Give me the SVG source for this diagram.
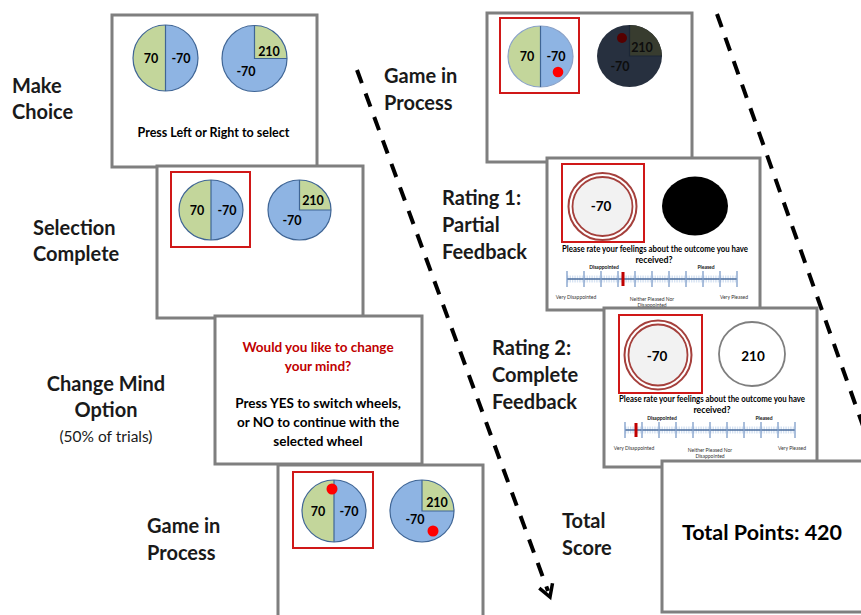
<svg xmlns="http://www.w3.org/2000/svg" width="861" height="615" viewBox="0 0 861 615">
<style>
.scr{fill:#fff;stroke:#7f7f7f;stroke-width:3}
.lbl{font-family:Lato,"Open Sans",sans-serif;font-weight:bold;font-size:20px;fill:#1a1a1a}
.num{font-family:Lato,"Open Sans",sans-serif;font-weight:bold;font-size:12.5px;text-anchor:middle;fill:#000}
.txt{font-family:Lato,"Open Sans",sans-serif;font-weight:bold;font-size:12.5px;text-anchor:middle;fill:#000}
.grn{fill:#c3d69b}
.blu{fill:#8eb4e3}
.pe{fill:none;stroke:#3f6595;stroke-width:1.2}
.sel{fill:none;stroke:#d01818;stroke-width:2}
.dot{fill:#ff0000}
.ring{fill:#fff;stroke:#a5403c;stroke-width:2}
.ring2{fill:#f2f2f2;stroke:#a5403c;stroke-width:1.8}
.tiny{font-family:Lato,"Open Sans",sans-serif;font-size:5px;text-anchor:middle;fill:#333}
.tinyb{font-family:Lato,"Open Sans",sans-serif;font-size:5px;font-weight:bold;text-anchor:middle;fill:#111}
.q{font-family:Lato,"Open Sans",sans-serif;font-weight:bold;font-size:8.8px;text-anchor:middle;fill:#000}
.dash{fill:none;stroke:#000;stroke-width:4;stroke-dasharray:14 11}
.chev{fill:none;stroke:#000;stroke-width:3.5}
.mark{fill:#c00000}
</style>
<defs>
<g id="scale">
<line x1="0" y1="0" x2="170" y2="0" stroke="#bcd0ea" stroke-width="7" stroke-dasharray="0.6 1.1"/>
<line x1="0" y1="0" x2="170" y2="0" stroke="#4a6d9c" stroke-width="1.6"/>
<path d="M0,-8v16M17,-8v16M34,-8v16M51,-8v16M68,-8v16M85,-8v16M102,-8v16M119,-8v16M136,-8v16M153,-8v16M170,-8v16" stroke="#7e9dca" stroke-width="1.3"/>
<text class="tinyb" x="37" y="-10">Disappointed</text>
<text class="tinyb" x="139" y="-10">Pleased</text>
<text class="tiny" x="9" y="20">Very Disappointed</text>
<text class="tiny" x="85" y="22">Neither Pleased Nor</text>
<text class="tiny" x="85" y="28">Disappointed</text>
<text class="tiny" x="167" y="20">Very Pleased</text>
</g>
</defs>

<g id="screen-make-choice">
<rect class="scr" x="112" y="15" width="205" height="152"/>
<path class="grn" d="M165.5,25 A32.5,33 0 0 0 165.5,91 Z"/>
<path class="blu" d="M165.5,25 A32.5,33 0 0 1 165.5,91 Z"/>
<ellipse class="pe" cx="165.5" cy="58" rx="32.5" ry="33"/>
<line class="pe" x1="165.5" y1="25" x2="165.5" y2="91"/>
<text class="num" x="151" y="62.5">70</text>
<text class="num" x="181" y="62.5">-70</text>
<ellipse class="blu" cx="254.5" cy="58.5" rx="32.5" ry="33"/>
<path class="grn" d="M254.5,58.5 L254.5,25.5 A32.5,33 0 0 1 287,58.5 Z"/>
<ellipse class="pe" cx="254.5" cy="58.5" rx="32.5" ry="33"/>
<path class="pe" d="M254.5,25.5 L254.5,58.5 L287,58.5"/>
<text class="num" x="269" y="55.5">210</text>
<text class="num" x="246" y="75.5">-70</text>
<text class="txt" x="213.5" y="137">Press Left or Right to select</text>
</g>

<g id="screen-selection">
<rect class="scr" x="157" y="166" width="206" height="152"/>
<rect class="sel" x="171" y="172" width="79" height="75"/>
<path class="grn" d="M211,180 A32,30 0 0 0 211,240 Z"/>
<path class="blu" d="M211,180 A32,30 0 0 1 211,240 Z"/>
<ellipse class="pe" cx="211" cy="210" rx="32" ry="30"/>
<line class="pe" x1="211" y1="180" x2="211" y2="240"/>
<text class="num" x="197" y="214.5">70</text>
<text class="num" x="227" y="214.5">-70</text>
<ellipse class="blu" cx="299.5" cy="210" rx="31.5" ry="30"/>
<path class="grn" d="M299.5,210 L299.5,180 A31.5,30 0 0 1 331,210 Z"/>
<ellipse class="pe" cx="299.5" cy="210" rx="31.5" ry="30"/>
<path class="pe" d="M299.5,180 L299.5,210 L331,210"/>
<text class="num" x="313" y="204.5">210</text>
<text class="num" x="292" y="224.5">-70</text>
</g>

<g id="screen-change-mind">
<rect class="scr" x="215" y="316" width="207" height="148"/>
<text class="txt" x="318" y="352" style="fill:#c00000;font-size:13.5px">Would you like to change</text>
<text class="txt" x="318" y="371" style="fill:#c00000;font-size:13.5px">your mind?</text>
<text class="txt" x="318" y="408" style="font-size:13.5px">Press YES to switch wheels,</text>
<text class="txt" x="318" y="427" style="font-size:13.5px">or NO to continue with the</text>
<text class="txt" x="318" y="446" style="font-size:13.5px">selected wheel</text>
</g>

<g id="screen-game-1">
<rect class="scr" x="278" y="465" width="205" height="160"/>
<rect class="sel" x="293" y="472" width="80" height="76"/>
<path class="grn" d="M334,480 A32,31 0 0 0 334,542 Z"/>
<path class="blu" d="M334,480 A32,31 0 0 1 334,542 Z"/>
<ellipse class="pe" cx="334" cy="511" rx="32" ry="31"/>
<line class="pe" x1="334" y1="480" x2="334" y2="542"/>
<text class="num" x="318" y="515.5">70</text>
<text class="num" x="349" y="515.5">-70</text>
<circle class="dot" cx="332" cy="489" r="5.5"/>
<ellipse class="blu" cx="422" cy="511" rx="32" ry="31"/>
<path class="grn" d="M422,511 L422,480 A32,31 0 0 1 454,511 Z"/>
<ellipse class="pe" cx="422" cy="511" rx="32" ry="31"/>
<path class="pe" d="M422,480 L422,511 L454,511"/>
<text class="num" x="437" y="506.5">210</text>
<text class="num" x="415" y="523.5">-70</text>
<circle class="dot" cx="433" cy="531" r="5.5"/>
</g>

<g id="screen-game-2">
<rect class="scr" x="487" y="13" width="205" height="149"/>
<rect class="sel" x="500" y="18" width="79" height="75"/>
<path class="grn" d="M540.5,26 A32.5,30.5 0 0 0 540.5,87 Z"/>
<path class="blu" d="M540.5,26 A32.5,30.5 0 0 1 540.5,87 Z"/>
<ellipse class="pe" cx="540.5" cy="56.5" rx="32.5" ry="30.5" style="stroke:#8aa2c8"/>
<line class="pe" x1="540.5" y1="26" x2="540.5" y2="87"/>
<text class="num" x="527" y="61">70</text>
<text class="num" x="556" y="61">-70</text>
<circle class="dot" cx="558" cy="72" r="5.3"/>
<ellipse cx="629.5" cy="56" rx="32.5" ry="31" fill="#27303f"/>
<path d="M629.5,56 L629.5,25 A32.5,31 0 0 1 662,56 Z" fill="#383c2f"/>
<path d="M629.5,25 L629.5,56 L662,56" fill="none" stroke="#1c2636" stroke-width="1.2"/>
<text class="num" x="642" y="51.5" style="fill:#0d0d0d">210</text>
<text class="num" x="620" y="70.5" style="fill:#0d0d0d">-70</text>
<circle cx="622" cy="38" r="5" fill="#560000"/>
</g>

<g id="screen-rating-1">
<rect class="scr" x="547" y="158" width="213" height="152"/>
<rect class="sel" x="562" y="164" width="82" height="78"/>
<ellipse class="ring" cx="602.5" cy="206.5" rx="34" ry="33.5"/>
<ellipse class="ring2" cx="602.5" cy="206.5" rx="30" ry="29.5"/>
<text class="num" x="601" y="211" style="font-size:13.5px">-70</text>
<ellipse cx="695" cy="206" rx="33" ry="29.5" fill="#000"/>
<text class="q" x="655" y="252" textLength="186" lengthAdjust="spacingAndGlyphs">Please rate your feelings about the outcome you have</text>
<text class="q" x="654" y="262.5">received?</text>
<use href="#scale" transform="translate(567,279)"/>
<rect class="mark" x="621.5" y="272" width="3" height="14"/>
</g>

<g id="screen-rating-2">
<rect class="scr" x="604" y="308" width="213" height="159"/>
<rect class="sel" x="619" y="315" width="83" height="78"/>
<ellipse class="ring" cx="658" cy="355" rx="33.5" ry="34.5"/>
<ellipse class="ring2" cx="658" cy="355" rx="29.5" ry="30.5"/>
<text class="num" x="657" y="360.5" style="font-size:13.5px">-70</text>
<ellipse cx="752" cy="354" rx="33" ry="32" fill="#fff" stroke="#7f7f7f" stroke-width="1.8"/>
<text class="num" x="753" y="360.5" style="font-size:13.5px">210</text>
<text class="q" x="712" y="402" textLength="186" lengthAdjust="spacingAndGlyphs">Please rate your feelings about the outcome you have</text>
<text class="q" x="712" y="412.5">received?</text>
<use href="#scale" transform="translate(625,430)"/>
<rect class="mark" x="634.5" y="423" width="3" height="14"/>
</g>

<g id="screen-total">
<rect class="scr" x="662" y="461" width="205" height="151"/>
<text class="txt" x="762" y="540" style="font-size:21.5px">Total Points: 420</text>
</g>

<g id="label-make-choice">
<text class="lbl" x="12" y="93">Make</text>
<text class="lbl" x="12" y="119">Choice</text>
</g>
<g id="label-selection">
<text class="lbl" x="33" y="235">Selection</text>
<text class="lbl" x="33" y="261">Complete</text>
</g>
<g id="label-change-mind">
<text class="lbl" x="106" y="391" text-anchor="middle">Change Mind</text>
<text class="lbl" x="106" y="417" text-anchor="middle">Option</text>
<text x="106" y="442" text-anchor="middle" style="font-family:Lato,'Open Sans',sans-serif;font-size:15.5px;fill:#1a1a1a">(50% of trials)</text>
</g>
<g id="label-game-1">
<text class="lbl" x="147" y="533">Game in</text>
<text class="lbl" x="147" y="560">Process</text>
</g>
<g id="label-game-2">
<text class="lbl" x="384" y="83">Game in</text>
<text class="lbl" x="384" y="110">Process</text>
</g>
<g id="label-rating-1">
<text class="lbl" x="442" y="205">Rating 1:</text>
<text class="lbl" x="442" y="232">Partial</text>
<text class="lbl" x="442" y="259">Feedback</text>
</g>
<g id="label-rating-2">
<text class="lbl" x="492" y="355">Rating 2:</text>
<text class="lbl" x="492" y="382">Complete</text>
<text class="lbl" x="492" y="409">Feedback</text>
</g>
<g id="label-total">
<text class="lbl" x="562" y="528">Total</text>
<text class="lbl" x="562" y="555">Score</text>
</g>

<g id="connectors">
<line class="dash" x1="357" y1="70" x2="548" y2="591"/>
<polyline class="chev" points="539.3,588.1 550,597 552.5,583.3"/>
<line class="dash" x1="717" y1="14" x2="863" y2="426"/>
</g>
</svg>
